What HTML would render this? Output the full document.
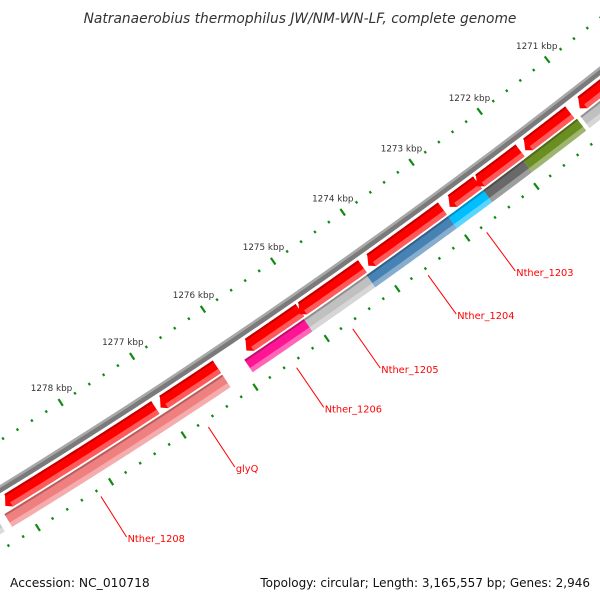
<!DOCTYPE html>
<html><head><meta charset="utf-8"><style>
html,body{margin:0;padding:0;background:#fff}
svg{display:block}
text{font-family:"DejaVu Sans","Liberation Sans",sans-serif}
</style></head><body>
<svg id="map" width="600" height="600" viewBox="0 0 600 600" xmlns="http://www.w3.org/2000/svg">
<rect width="600" height="600" fill="#fff"/>
<g id="g"></g>
<text x="300" y="23" text-anchor="middle" font-size="13.8" font-style="italic" fill="#333">Natranaerobius thermophilus JW/NM-WN-LF, complete genome</text>
<text x="10" y="587" font-size="12.3" fill="#111">Accession: NC_010718</text>
<text x="590" y="587" text-anchor="end" font-size="12" fill="#111">Topology: circular; Length: 3,165,557 bp; Genes: 2,946</text>
</svg>
<script>
// data
const fwdStarts=[1279.19,1277.05,1275.85,1275.10,1274.12,1272.95,1272.55,1271.85,1271.05];
const fwdEnds  =[1277.10,1276.24,1275.07,1274.18,1273.03,1272.52,1271.90,1271.17,1269.5];
const revStarts=[1280.5,1279.25,1275.93,1275.09,1274.20,1273.03,1272.52,1271.94,1271.10];
const revEnds  =[1279.35,1276.24,1275.09,1274.20,1273.03,1272.52,1271.94,1271.15,1269.5];
const revColors=["#c8c8c8","#f08080","#ff1493","#c0c0c0","#4682b4","#00bfff","#696969","#6b8e23","#c0c0c0"];
const tickKbp=[1271,1272,1273,1274,1275,1276,1277,1278];
const tickLabels=["1271 kbp","1272 kbp","1273 kbp","1274 kbp","1275 kbp","1276 kbp","1277 kbp","1278 kbp"];
const geneNames=["Nther_1203","Nther_1204","Nther_1205","Nther_1206","glyQ","Nther_1208"];
const geneKbp=[1272.78,1273.62,1274.69,1275.48,1276.71,1278.19];

const CX=-3277,CY=-4851;
function ang(k){return (52.09+(k-1271)*0.783)*Math.PI/180;}
function pt(k,r){const a=ang(k);return [CX+r*Math.cos(a),CY+r*Math.sin(a)];}
const NS="http://www.w3.org/2000/svg";
const G=document.getElementById('g');
function mk(tag,attrs){const e=document.createElementNS(NS,tag);for(const k in attrs)e.setAttribute(k,attrs[k]);G.appendChild(e);return e;}
function band(k1,k2,r1,r2,fill,arrow){
  const pts=[];const n=30;
  const lo=Math.min(k1,k2),hi=Math.max(k1,k2);
  const ah=arrow?0.07:0;
  for(let i=0;i<=n;i++){const k=lo+(hi-ah-lo)*i/n;pts.push(pt(k,r1));}
  if(arrow){pts.push(pt(hi,(r1+r2)/2+3));}
  for(let i=n;i>=0;i--){const k=lo+(hi-ah-lo)*i/n;pts.push(pt(k,r2));}
  return mk('polygon',{points:pts.map(p=>p[0].toFixed(2)+','+p[1].toFixed(2)).join(' '),fill:fill});
}
// backbone
let e=band(1268,1282,6262,6269,'#7a7a7a',false);


e=band(1268,1282,6262,6264.5,'#a8a8a8',false);


// forward features
for(let i=0;i<fwdStarts.length;i++){
  e=band(fwdEnds[i],fwdStarts[i],6272,6287,'#ff0000',true);
  
  
  e=band(fwdEnds[i],fwdStarts[i]-0.06,6272,6274,'#c00000',false);
  
  
  e=band(fwdEnds[i],fwdStarts[i]-0.07,6282,6287,'#ff5a5a',false);
  
  
}
// reverse features
for(let i=0;i<revStarts.length;i++){
  e=band(revEnds[i],revStarts[i],6289,6304,revColors[i],false);
  
  
  e=band(revEnds[i],revStarts[i],6289,6291,'rgba(0,0,0,0.25)',false);
  
  
  e=band(revEnds[i],revStarts[i],6299,6304,'rgba(255,255,255,0.35)',false);
  
  
}
// ticks
function tick(k,r,len,name){
  const a=pt(k,r-len/2),b=pt(k,r+len/2);
  const l=mk('line',{x1:a[0],y1:a[1],x2:b[0],y2:b[1],stroke:'#118a11','stroke-width':2.2});
  
  
}
for(let j=0;j<=70;j++){
  const k=1267+j*0.2;
  const major=Math.abs(k-Math.round(k))<0.01;
  tick(k,6224,major?8:2.6,major?'inner-major-tick':'inner-minor-tick');
  tick(k,6318,major?8:2.6,major?'outer-major-tick':'outer-minor-tick');
}
for(let i=0;i<tickKbp.length;i++){
  const p=pt(tickKbp[i],6207);
  const t=mk('text',{x:p[0],y:p[1]+3,'text-anchor':'middle','font-size':8.8,fill:'#333'});
  t.textContent=tickLabels[i];
  
  
}
// gene labels
for(let i=0;i<geneNames.length;i++){
  const a=pt(geneKbp[i],6325),b=pt(geneKbp[i],6373);
  const l=mk('line',{x1:a[0],y1:a[1],x2:b[0],y2:b[1],stroke:'#ff0000','stroke-width':1});
  
  
  const t=mk('text',{x:b[0]+1,y:b[1]+5,'font-size':9.8,fill:'#ff0000'});
  t.textContent=geneNames[i];
  
  
}
</script>
</body></html>
